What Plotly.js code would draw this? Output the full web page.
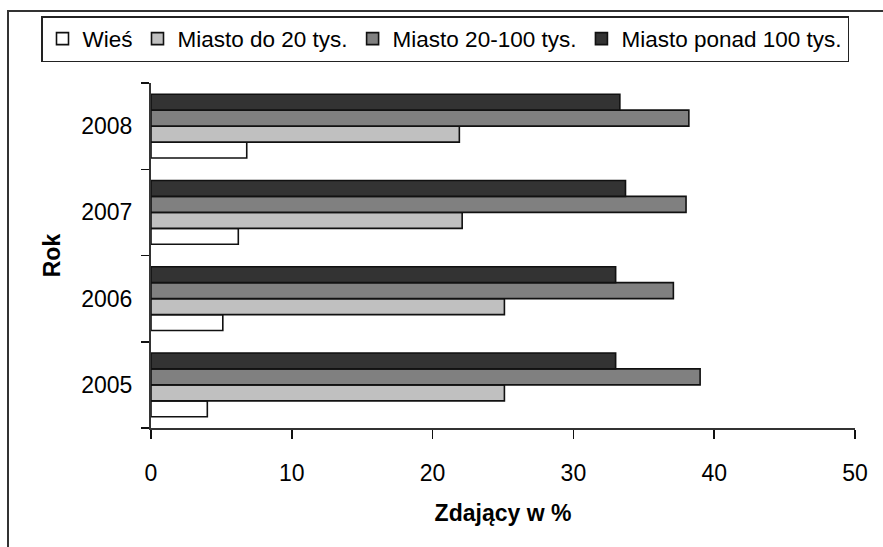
<!DOCTYPE html>
<html>
<head>
<meta charset="utf-8">
<script src="https://cdn.plot.ly/plotly-3.0.1.min.js"></script>
<style>html,body{margin:0;padding:0;background:#fff;}#chart{width:883px;height:547px;}</style>
</head>
<body>
<div id="chart"></div>
<script>
const years = ['2005', '2006', '2007', '2008'];
const seriesNames = ['Wieś', 'Miasto do 20 tys.', 'Miasto 20-100 tys.', 'Miasto ponad 100 tys.'];
const wies = [4.0, 5.1, 6.2, 6.8];
const miastoDo20 = [25.1, 25.1, 22.1, 21.9];
const miasto20do100 = [39.0, 37.1, 38.0, 38.2];
const miastoPonad100 = [33.0, 33.0, 33.7, 33.3];
const xTicks = [0, 10, 20, 30, 40, 50];
const colors = ['#ffffff', '#c0c0c0', '#808080', '#333333'];

const values = [wies, miastoDo20, miasto20do100, miastoPonad100];
const font = 'Liberation Sans, Arial, sans-serif';

const traces = values.map((v, i) => ({
  type: 'bar',
  orientation: 'h',
  name: seriesNames[i],
  y: years,
  x: v,
  marker: { color: colors[i], line: { color: '#111', width: 1.6 } },
  hoverinfo: 'x+name'
}));

const W = 883, H = 547;
const L = 151, R = 28, T = 83, B = 119;
const pw = W - L - R, ph = H - T - B;
const px = x => (x - L) / pw;
const py = y => 1 + (T - y) / ph;

const layout = {
  width: W, height: H,
  margin: { l: L, r: R, t: T, b: B },
  paper_bgcolor: '#fff', plot_bgcolor: '#fff',
  barmode: 'group', bargap: 0.26, bargroupgap: 0,
  font: { family: font, size: 23, color: '#000' },
  showlegend: true,
  legend: {
    orientation: 'h', x: px(41), y: py(16), xanchor: 'left', yanchor: 'top',
    bordercolor: '#222', borderwidth: 1.5, bgcolor: '#fff',
    font: { family: font, size: 22.5, color: '#000' },
    traceorder: 'normal', itemwidth: 30
  },
  xaxis: {
    range: [0, 50], tickvals: xTicks, ticktext: xTicks.map(String),
    showgrid: false, zeroline: false,
    showline: true, linecolor: '#333', linewidth: 2,
    ticks: 'outside', ticklen: 9, tickcolor: '#111', tickwidth: 1.5,
    ticklabelstandoff: 14,
    tickfont: { family: font, size: 23 },
    title: { text: 'Zdający w %', font: { family: font, size: 23, weight: 'bold' }, standoff: 20 },
    fixedrange: true
  },
  yaxis: {
    type: 'category', categoryorder: 'array', categoryarray: years,
    showgrid: false, zeroline: false,
    showline: true, linecolor: '#333', linewidth: 2,
    ticks: 'outside', tickson: 'boundaries', ticklen: 8, tickcolor: '#111', tickwidth: 1.5,
    tickfont: { family: font, size: 23 },
    ticklabelstandoff: 12,
    title: { text: 'Rok', font: { family: font, size: 23, weight: 'bold' }, standoff: 14 },
    fixedrange: true
  },
  shapes: [{
    type: 'rect', xref: 'paper', yref: 'paper',
    x0: px(8), x1: 1.2, y0: -0.5, y1: py(11),
    line: { color: '#333', width: 2 }, fillcolor: 'rgba(0,0,0,0)', layer: 'below'
  }]
};

Plotly.newPlot('chart', traces, layout, { displayModeBar: false, staticPlot: true });
</script>
</body>
</html>
